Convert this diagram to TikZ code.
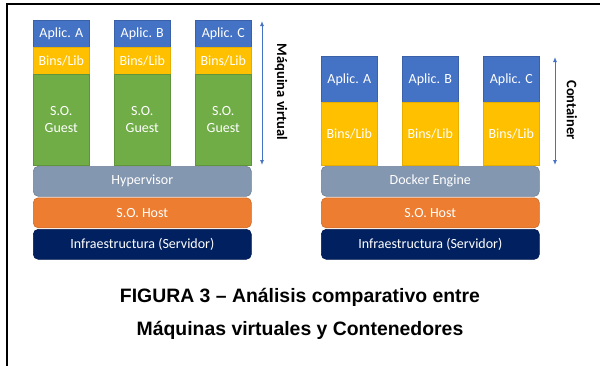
\documentclass[tikz,border=0pt]{standalone}
\usepackage{fontspec}
\setmainfont{Carlito}
\newfontfamily\capfont{Liberation Sans}
\usetikzlibrary{arrows.meta}
\definecolor{cblue}{HTML}{4472C4}
\definecolor{cyel}{HTML}{FFC000}
\definecolor{cgreen}{HTML}{70AD47}
\definecolor{chyp}{HTML}{8497B0}
\definecolor{chost}{HTML}{ED7D31}
\definecolor{cinfra}{HTML}{002060}
\tikzset{
  box/.style={rectangle, anchor=north west, inner sep=0pt, font=\fontsize{14}{17}\selectfont, text=white, align=center, line width=0.6pt},
  app/.style={box, fill=cblue, draw=cblue!85!black},
  lib/.style={box, fill=cyel, draw=cyel!90!black},
  guest/.style={box, fill=cgreen, draw=cgreen!85!black},
  layer/.style={box, rounded corners=5pt, minimum width=218pt, minimum height=30pt},
  dim/.style={draw=cblue, line width=1pt, {Latex[length=5pt,width=4pt]}-{Latex[length=5pt,width=4pt]}},
  sidelabel/.style={font=\fontsize{14.5}{17}\selectfont\bfseries, rotate=-90, text=black},
}
\begin{document}
\begin{tikzpicture}[x=1pt,y=-1pt]
\useasboundingbox (0,0) rectangle (600,365);
\fill[white] (0,0) rectangle (600,365);
\draw[line width=2pt, black] (7,366) -- (7,4) -- (601,4);
% Left: virtual machines
\foreach \i/\x/\l in {1/33/A,2/114/B,3/195/C}{
  \node[app, minimum width=56pt, minimum height=27pt] (va\i) at (\x,20) {Aplic. \l};
  \node[lib, minimum width=56pt, minimum height=27pt] (vl\i) at (\x,47) {Bins/Lib};
  \node[guest, minimum width=56pt, minimum height=91pt] (vg\i) at (\x,74) {S.O.\\Guest};
}
\node[layer, fill=chyp, draw=chyp!85!black] (hyp) at (33,166) {Hypervisor};
\node[layer, fill=chost, draw=chost!85!black] (vhost) at (33,197.5) {S.O. Host};
\node[layer, fill=cinfra, draw=cinfra!85!black] (vinf) at (33,229) {Infraestructura (Servidor)};
\coordinate (vt) at (262,21);
\coordinate (vb) at (262,165);
\draw[dim] (vt) -- (vb);
\node[sidelabel] (vlab) at (281,92) {Máquina virtual};
% Right: containers
\foreach \i/\x/\l in {1/321/A,2/402/B,3/483/C}{
  \node[app, minimum width=56pt, minimum height=46pt] (ca\i) at (\x,56) {Aplic. \l};
  \node[lib, minimum width=56pt, minimum height=63pt] (cl\i) at (\x,102) {Bins/Lib};
}
\node[layer, fill=chyp, draw=chyp!85!black] (dock) at (321,166) {Docker Engine};
\node[layer, fill=chost, draw=chost!85!black] (chost) at (321,197.5) {S.O. Host};
\node[layer, fill=cinfra, draw=cinfra!85!black] (cinf) at (321,229) {Infraestructura (Servidor)};
\coordinate (ct) at (555,57);
\coordinate (cb) at (555,165);
\draw[dim] (ct) -- (cb);
\node[sidelabel] (clab) at (572,110) {Container};
% Caption
\node[font=\capfont\fontsize{19.4}{33}\selectfont\bfseries, align=center, text=black] (cap) at (300,314) {FIGURA 3 – Análisis comparativo entre\\Máquinas virtuales y Contenedores};
\end{tikzpicture}
\end{document}
